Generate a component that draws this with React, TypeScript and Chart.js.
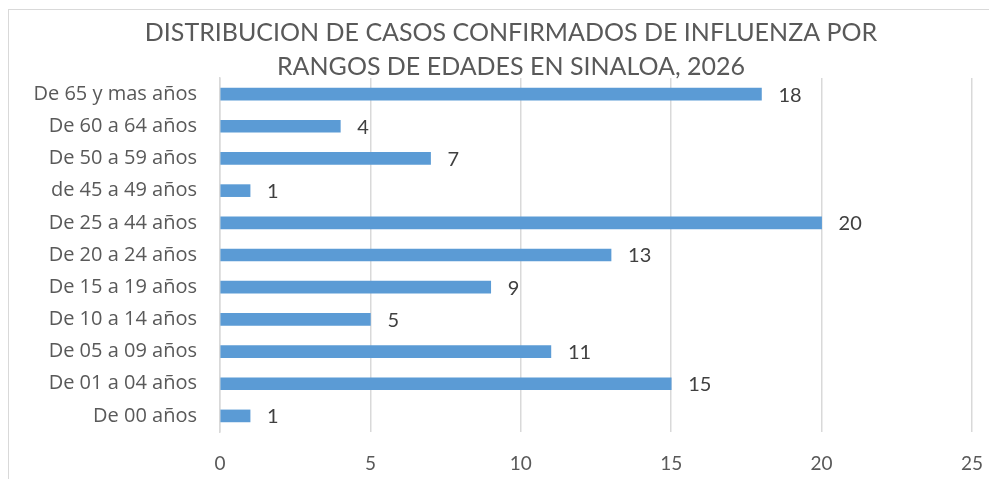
import React, { useEffect, useRef } from "react";
import { Chart, registerables } from "chart.js";

Chart.register(...registerables);

const categories = [
  "De 65 y mas años",
  "De 60 a 64 años",
  "De 50 a 59 años",
  "de 45 a 49 años",
  "De 25 a 44 años",
  "De 20 a 24 años",
  "De 15 a 19 años",
  "De 10 a 14 años",
  "De 05 a 09 años",
  "De 01 a 04 años",
  "De 00 años",
];
const values = [18, 4, 7, 1, 20, 13, 9, 5, 11, 15, 1];
const xTickValues = [0, 5, 10, 15, 20, 25];
const titleLines = [
  "DISTRIBUCION DE CASOS CONFIRMADOS DE INFLUENZA POR",
  "RANGOS DE EDADES EN SINALOA, 2026",
];

const FONT = "Lato";

const titlePlugin = {
  id: "customTitle",
  afterDraw(chart: any) {
    const ctx = chart.ctx;
    ctx.save();
    ctx.font = `25px ${FONT}`;
    ctx.fillStyle = "#595959";
    ctx.textAlign = "center";
    ctx.textBaseline = "middle";
    titleLines.forEach((line, i) => {
      ctx.fillText(line, 511, 33 + i * 34);
    });
    ctx.restore();
  },
};

const valueLabelPlugin = {
  id: "valueLabels",
  afterDatasetsDraw(chart: any) {
    const ctx = chart.ctx;
    const meta = chart.getDatasetMeta(0);
    ctx.save();
    ctx.font = `20px ${FONT}`;
    ctx.fillStyle = "#404040";
    ctx.textAlign = "left";
    ctx.textBaseline = "middle";
    meta.data.forEach((bar: any, i: number) => {
      ctx.fillText(String(values[i]), bar.x + 17, bar.y + 1);
    });
    ctx.restore();
  },
};

export default function App() {
  const ref = useRef<HTMLCanvasElement>(null);
  useEffect(() => {
    if (!ref.current) return;
    const chart = new Chart(ref.current, {
      type: "bar",
      data: {
        labels: categories,
        datasets: [
          {
            data: values,
            backgroundColor: "#5b9bd5",
            barThickness: 12,
          },
        ],
      },
      options: {
        indexAxis: "y",
        responsive: false,
        animation: false,
        devicePixelRatio: 1,
        layout: { padding: { left: 10, right: 17, top: 78, bottom: 0 } },
        plugins: {
          legend: { display: false },
          title: { display: false },
          tooltip: { enabled: false },
        },
        scales: {
          x: {
            min: 0,
            max: 25,
            afterBuildTicks: (scale: any) => {
              scale.ticks = xTickValues.map((v) => ({ value: v }));
            },
            ticks: {
              font: { family: FONT, size: 19 },
              color: "#595959",
              padding: 20,
            },
            grid: { color: "#d9d9d9", lineWidth: 1.5, drawTicks: false },
            border: { display: false },
            afterFit: (s: any) => {
              s.height = 47;
              s.paddingRight = 0;
              s.paddingLeft = 0;
            },
          },
          y: {
            ticks: {
              font: { family: "Open Sans", size: 20 },
              color: "#595959",
              padding: 23,
            },
            grid: { display: false, drawTicks: false },
            border: { display: true, color: "#d9d9d9", width: 1.5 },
            afterFit: (s: any) => {
              s.width = 210;
              s.paddingTop = 0;
              s.paddingBottom = 0;
            },
          },
        },
      },
      plugins: [titlePlugin, valueLabelPlugin],
    });
    return () => chart.destroy();
  }, []);

  return (
    <div
      style={{
        position: "fixed",
        left: 0,
        top: 0,
        width: 989,
        height: 479,
        overflow: "hidden",
        background: "#ffffff",
      }}
    >
      <div
        style={{
          position: "absolute",
          left: 8,
          top: 9,
          width: 1200,
          height: 700,
          borderLeft: "1px solid #d9d9d9",
          borderTop: "1px solid #d9d9d9",
        }}
      />
      <canvas
        ref={ref}
        width={989}
        height={479}
        style={{ position: "absolute", left: 0, top: 0, width: 989, height: 479 }}
      />
    </div>
  );
}
